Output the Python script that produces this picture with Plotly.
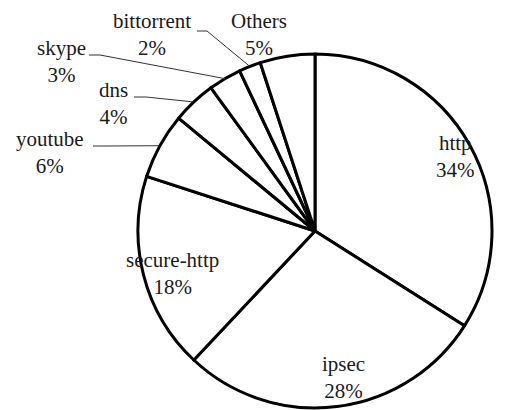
import numpy as np
import plotly.graph_objects as go

labels = ["http", "ipsec", "secure-http", "youtube", "dns", "skype", "bittorrent", "Others"]
values = [34, 28, 18, 6, 4, 3, 2, 5]

W, H = 516, 410
CX, CY, R = 315, 231, 177  # pie centre / radius in pixels

# label block centres (pixels) and leader-line starts
label_pos = {
    "http": (455, 156), "ipsec": (343, 377), "secure-http": (172, 273),
    "youtube": (50, 152), "dns": (113, 103), "skype": (61, 61),
    "bittorrent": (152, 35), "Others": (259, 35),
}
leader_start = {
    "youtube": [(93, 146), (106, 146)],
    "dns": [(134, 97), (146, 97)],
    "skype": [(89, 55), (100, 55)],
    "bittorrent": [(197, 31), (207, 31)],
}

fig = go.Figure(go.Pie(
    labels=labels, values=values, sort=False, direction="clockwise", rotation=0,
    marker=dict(colors=["white"] * len(values), line=dict(color="black", width=3)),
    textinfo="none", hoverinfo="label+percent", showlegend=False,
    domain=dict(x=[(CX - R) / W, (CX + R) / W], y=[(H - CY - R) / H, (H - CY + R) / H]),
))

def px(x, y):
    return x / W, 1 - y / H

total = sum(values)
cum = np.cumsum([0] + values)
font = dict(family="Liberation Serif", size=21, color="#1a1a1a")
ann = []
shapes = []
for i, (lab, v) in enumerate(zip(labels, values)):
    x, y = px(*label_pos[lab])
    ann.append(dict(x=x, y=y, xref="paper", yref="paper", text=f"{lab}<br>{v}%",
                    xanchor="center", yanchor="middle",
                    showarrow=False, font=font, align="center"))
    if lab in leader_start:
        mid = (cum[i] + v / 2) / total * 2 * np.pi
        ex, ey = CX + R * np.sin(mid), CY - R * np.cos(mid)
        pts = leader_start[lab] + [(ex, ey)]
        p = [px(a, b) for a, b in pts]
        path = "M " + " L ".join(f"{a},{b}" for a, b in p)
        shapes.append(dict(type="path", xref="paper", yref="paper", path=path,
                           line=dict(color="#333333", width=1)))

fig.update_layout(width=W, height=H, margin=dict(l=0, r=0, t=0, b=0),
                  paper_bgcolor="white", plot_bgcolor="white",
                  font=dict(family="Liberation Serif"),
                  annotations=ann, shapes=shapes)
fig.write_html("out.html")
